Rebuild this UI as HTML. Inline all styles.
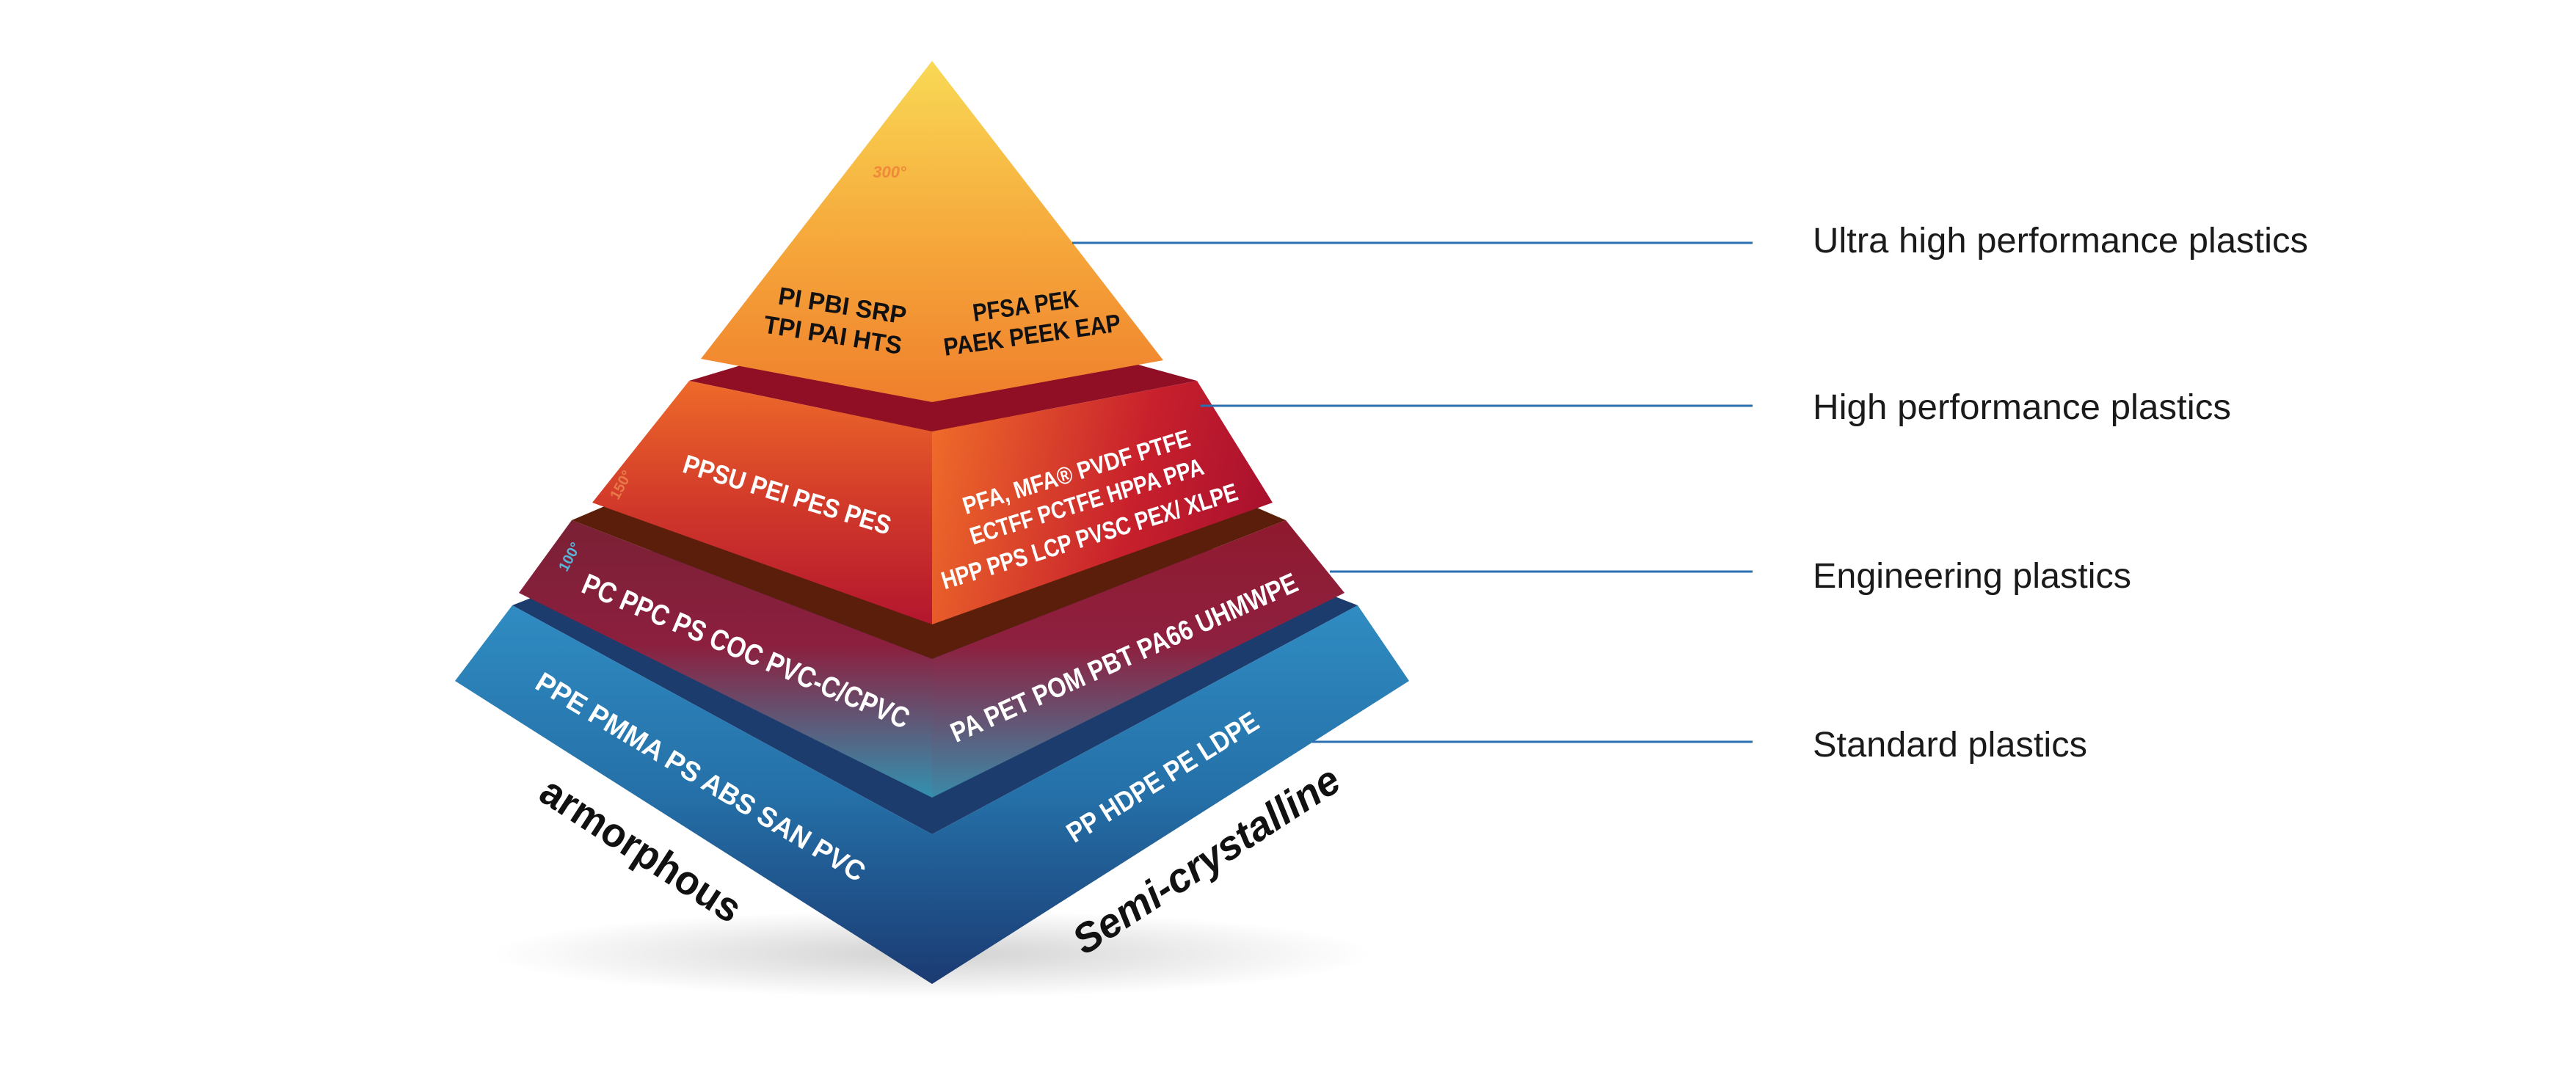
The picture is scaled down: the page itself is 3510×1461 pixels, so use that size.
<!DOCTYPE html>
<html><head><meta charset="utf-8"><style>
html,body{margin:0;padding:0;background:#fff;}
svg{display:block}
.t{font-family:"Liberation Sans",sans-serif;font-weight:bold;}
.lab{font-family:"Liberation Sans",sans-serif;font-size:48px;fill:#1a1a1a;}
</style></head><body>
<svg width="3510" height="1461" viewBox="0 0 3510 1461" xmlns="http://www.w3.org/2000/svg">
<defs>
<linearGradient id="gTop" x1="0" y1="83" x2="0" y2="548" gradientUnits="userSpaceOnUse">
<stop offset="0" stop-color="#f9d955"/><stop offset="0.5" stop-color="#f6aa3c"/><stop offset="1" stop-color="#ef7f2c"/></linearGradient>
<linearGradient id="gL2" x1="0" y1="519" x2="0" y2="851" gradientUnits="userSpaceOnUse">
<stop offset="0" stop-color="#ee6a2a"/><stop offset="0.5" stop-color="#d23a2a"/><stop offset="1" stop-color="#b3162e"/></linearGradient>
<linearGradient id="gL2r" x1="1270" y1="600" x2="1734" y2="700" gradientUnits="userSpaceOnUse">
<stop offset="0" stop-color="#ee6a2a"/><stop offset="0.6" stop-color="#c8202c"/><stop offset="1" stop-color="#a8102e"/></linearGradient>
<linearGradient id="gL3" x1="0" y1="709" x2="0" y2="1087" gradientUnits="userSpaceOnUse">
<stop offset="0" stop-color="#7a2035"/><stop offset="0.45" stop-color="#8c1f3e"/><stop offset="1" stop-color="#3391b0"/></linearGradient>
<linearGradient id="gL3r" x1="0" y1="709" x2="0" y2="1087" gradientUnits="userSpaceOnUse">
<stop offset="0" stop-color="#8f1a2e"/><stop offset="0.45" stop-color="#8e2040"/><stop offset="1" stop-color="#3a8aa8"/></linearGradient>
<linearGradient id="gL4" x1="0" y1="825" x2="0" y2="1341" gradientUnits="userSpaceOnUse">
<stop offset="0" stop-color="#2f8cc2"/><stop offset="0.5" stop-color="#2570a8"/><stop offset="1" stop-color="#1b3a72"/></linearGradient>
<radialGradient id="sh" cx="0.5" cy="0.5" r="0.5"><stop offset="0" stop-color="#000" stop-opacity="0.18"/><stop offset="1" stop-color="#000" stop-opacity="0"/></radialGradient>
</defs>
<ellipse cx="1270" cy="1300" rx="600" ry="60" fill="url(#sh)"/>
<!-- Layer 4 blue -->
<polygon points="698,825 1270,600 1850,825 1270,1137" fill="#1d3c6e"/>
<polygon points="698,825 1270,1137 1270,1341 620,928" fill="url(#gL4)"/>
<polygon points="1270,1137 1850,825 1920,928 1270,1341" fill="url(#gL4)"/>
<!-- Layer 3 -->
<polygon points="779,709 1270,500 1752,709 1270,898" fill="#5a1e0a"/>
<polygon points="779,709 1270,898 1270,1087 707,808" fill="url(#gL3)"/>
<polygon points="1270,898 1752,709 1832,808 1270,1087" fill="url(#gL3r)"/>
<!-- Layer 2 -->
<polygon points="939,519 1270,420 1631,519 1270,588" fill="#900f24"/>
<polygon points="939,519 1270,588 1270,851 807,685" fill="url(#gL2)"/>
<polygon points="1270,588 1631,519 1734,685 1270,851" fill="url(#gL2r)"/>
<!-- Top -->
<polygon points="1270,83 955,489 1270,548" fill="url(#gTop)"/>
<polygon points="1270,83 1270,548 1585,491" fill="url(#gTop)"/>

<g stroke="#2a6fb0" stroke-width="3">
<line x1="1461" y1="331" x2="2388" y2="331"/>
<line x1="1636" y1="553" x2="2388" y2="553"/>
<line x1="1812" y1="779" x2="2388" y2="779"/>
<line x1="1788" y1="1011" x2="2388" y2="1011"/>
</g>
<text class="lab" x="2470" y="344" textLength="675" lengthAdjust="spacingAndGlyphs">Ultra high performance plastics</text>
<text class="lab" x="2470" y="571" textLength="570" lengthAdjust="spacingAndGlyphs">High performance plastics</text>
<text class="lab" x="2470" y="801" textLength="434" lengthAdjust="spacingAndGlyphs">Engineering plastics</text>
<text class="lab" x="2470" y="1031" textLength="374" lengthAdjust="spacingAndGlyphs">Standard plastics</text>

<g class="t" text-anchor="middle" lengthAdjust="spacingAndGlyphs">
<text x="1212" y="242" font-size="22" fill="#f08a3a" font-style="italic">300°</text>
<text transform="translate(1146,428) rotate(9)" font-size="34" fill="#111" textLength="176" lengthAdjust="spacingAndGlyphs">PI PBI SRP</text>
<text transform="translate(1133,468) rotate(9)" font-size="34" fill="#111" textLength="190" lengthAdjust="spacingAndGlyphs">TPI PAI HTS</text>
<text transform="translate(1399,428) rotate(-8)" font-size="34" fill="#111" textLength="145" lengthAdjust="spacingAndGlyphs">PFSA PEK</text>
<text transform="translate(1408,468) rotate(-8)" font-size="34" fill="#111" textLength="243" lengthAdjust="spacingAndGlyphs">PAEK PEEK EAP</text>

<text transform="translate(852,664) rotate(-62)" font-size="20" fill="#e87a4a">150°</text>
<text transform="translate(1069,686) rotate(17)" font-size="36" fill="#fff" textLength="294" lengthAdjust="spacingAndGlyphs">PPSU PEI PES PES</text>
<text transform="translate(1470,654) rotate(-17)" font-size="33" fill="#fff" textLength="322" lengthAdjust="spacingAndGlyphs">PFA, MFA® PVDF PTFE</text>
<text transform="translate(1484,694) rotate(-17)" font-size="33" fill="#fff" textLength="331" lengthAdjust="spacingAndGlyphs">ECTFF PCTFE HPPA PPA</text>
<text transform="translate(1488,742) rotate(-17)" font-size="34" fill="#fff" textLength="420" lengthAdjust="spacingAndGlyphs">HPP PPS LCP PVSC PEX/ XLPE</text>

<text transform="translate(782,762) rotate(-62)" font-size="20" fill="#5ab4d8">100°</text>
<text transform="translate(1011,900) rotate(23)" font-size="40" fill="#fff" textLength="480" lengthAdjust="spacingAndGlyphs">PC  PPC  PS  COC  PVC-C/CPVC</text>
<text transform="translate(1537,908) rotate(-24)" font-size="38" fill="#fff" textLength="513" lengthAdjust="spacingAndGlyphs">PA  PET  POM  PBT  PA66  UHMWPE</text>
<text transform="translate(948,1070) rotate(31)" font-size="38" fill="#fff" textLength="516" lengthAdjust="spacingAndGlyphs">PPE  PMMA  PS  ABS  SAN  PVC</text>
<text transform="translate(1591,1070) rotate(-32)" font-size="38" fill="#fff" textLength="300" lengthAdjust="spacingAndGlyphs">PP  HDPE  PE  LDPE</text>

<text transform="translate(863,1174) rotate(33)" font-size="56" fill="#111" textLength="314" lengthAdjust="spacingAndGlyphs">armorphous</text>
<text transform="translate(1654,1188) rotate(-33)" font-size="56" fill="#111" font-style="italic" textLength="421" lengthAdjust="spacingAndGlyphs">Semi-crystalline</text>
</g>
</svg>
</body></html>
